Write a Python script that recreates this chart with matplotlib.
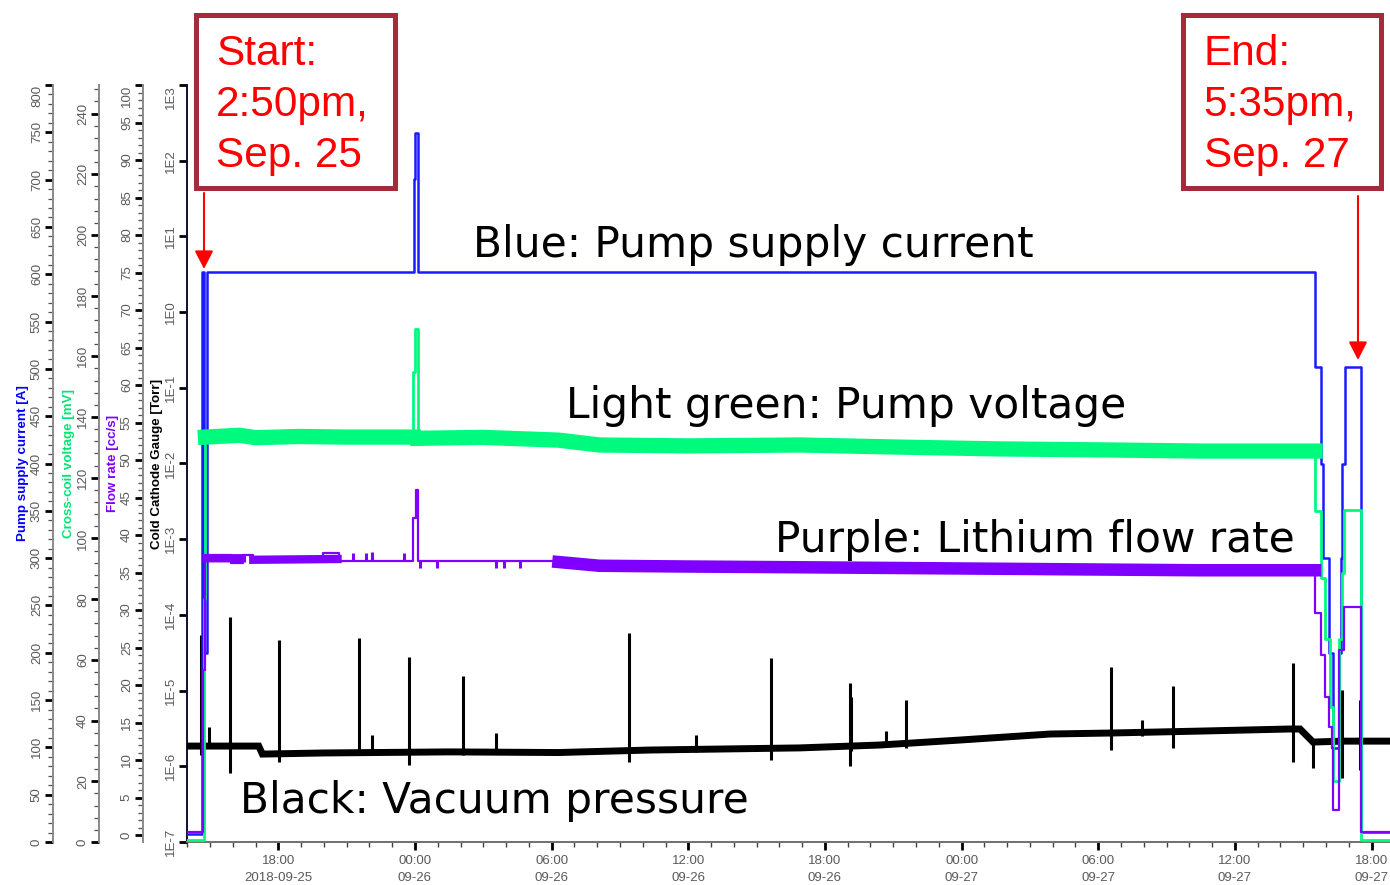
import matplotlib
matplotlib.use('Agg')
import matplotlib.pyplot as plt
import matplotlib.dates as mdates
import matplotlib.ticker as mticker
from matplotlib.patches import Rectangle, FancyArrowPatch
import numpy as np
import pandas as pd

plt.rcParams['font.family'] = ['Liberation Sans', 'DejaVu Sans']

nan = np.nan
# all times are hours after 2018-09-25 00:00

# pump supply current [A] (step changes)
cur_h = [13.98, 14.63, 14.73, 14.86, 23.96, 24.02, 24.13, 63.52, 63.77, 63.88, 64.14, 64.32,
         64.59, 64.66, 64.72, 64.84, 65.55, 66.9]
cur_a = [8, 602, 200, 602, 701, 749, 602, 502, 400, 300, 200, 99,
         200, 300, 400, 502, 11, 11]

# cross-coil voltage [mV]
volt_h = [13.98, 14.72, 14.80, 16.3, 17.0, 18.9, 21.0, 23.93, 24.00, 24.12, 27.0, 30.3, 32.1, 36.0,
          40.9, 45.3, 49.7, 54.0, 58.5, 63.52, 63.77, 63.96, 64.17, 64.32, 64.59, 64.69, 64.81, 65.55, 66.9]
volt_mv = [0.6, 80, 133.4, 134.0, 133.2, 133.6, 133.4, 155, 169, 133.0, 133.3, 132.4, 130.8, 130.5,
           130.8, 130.1, 129.5, 129.2, 128.8, 109, 87, 67, 44.5, 20, 67, 88.5, 109.5, 0.7, 0.7]
# noisy part of the voltage trace (band centre)
vband_h = [14.80, 16.3, 17.0, 18.9, 21.0, 23.93, nan, 24.12, 27.0, 30.3, 32.1, 36.0, 40.9, 45.3,
           49.7, 54.0, 58.5, 63.52]
vband_mv = [133.4, 134.0, 133.2, 133.6, 133.4, 133.4, nan, 133.0, 133.3, 132.4, 130.8, 130.5, 130.8, 130.1,
            129.5, 129.2, 128.8, 128.8]

# lithium flow rate [cc/s]
flow_h = [13.98, 14.68, 14.80, 15.90, 16.43, 16.90, 19.95, 20.65, 23.93, 24.03, 24.12, 30.3, 32.1,
          36.0, 40.9, 45.3, 49.7, 54.0, 58.5, 63.52, 63.77, 63.96, 64.14, 64.25, 64.32, 64.59, 64.81,
          65.55, 66.9]
flow_cc = [0.4, 22, 37.3, 36.3, 37.3, 36.6, 37.6, 36.5, 42.3, 46.0, 36.5, 36.2, 35.9,
           35.8, 35.7, 35.6, 35.5, 35.4, 35.3, 29.6, 24.0, 18.4, 14.4, 11.6, 3.3, 24.7, 30.4,
           0.4, 0.4]
# noisy parts of the flow trace (band centre)
fband1_h = [14.85, 16.4, nan, 16.9, 20.6]
fband1_cc = [36.9, 36.9, nan, 36.7, 36.8]
fband2_h = [30.3, 32.1, 36.0, 40.9, 45.3, 49.7, 54.0, 58.5, 63.52]
fband2_cc = [36.4, 35.9, 35.8, 35.7, 35.6, 35.5, 35.4, 35.3, 35.3]
# short blips of the flow reading
fblip_h = [21.27, 21.85, 22.11, 23.52, 24.22, 24.97, 27.55, 27.9, 28.6]
fblip_lo = [36.5, 36.5, 36.5, 36.5, 35.6, 35.6, 35.6, 35.6, 35.6]
fblip_hi = [37.6, 37.6, 37.8, 37.6, 36.5, 36.5, 36.5, 36.5, 36.5]

# cold cathode gauge [Torr]
press_h = [13.98, 17.14, 17.3, 20.0, 25.5, 30.3, 34.3, 40.9, 44.4, 47.9, 51.9, 54.5, 58.5, 62.4,
           62.86, 63.43, 64.7, 66.9]
press_torr = [1.85e-6, 1.85e-6, 1.45e-6, 1.50e-6, 1.55e-6, 1.52e-6, 1.64e-6, 1.75e-6, 1.91e-6, 2.22e-6,
              2.67e-6, 2.75e-6, 2.92e-6, 3.11e-6, 3.11e-6, 2.09e-6, 2.15e-6, 2.15e-6]
spike_h = [14.59, 14.95, 15.87, 18.02, 21.54, 22.11, 23.74, 26.11, 27.56, 33.41, 36.35, 39.65, 43.08,
           43.16, 44.66, 45.54, 54.55, 55.91, 57.27, 62.55, 63.43, 64.70, 65.49]
spike_top = [5.43e-5, 3.3e-6, 9.37e-5, 4.66e-5, 4.95e-5, 2.59e-6, 2.78e-5, 1.56e-5, 2.75e-6, 5.77e-5,
             2.59e-6, 2.70e-5, 1.26e-5, 8.2e-6, 2.92e-6, 7.5e-6, 2.05e-5, 4.09e-6, 1.15e-5, 2.32e-5,
             2.22e-6, 1.02e-5, 7.5e-6]
spike_low = [1.41e-6, 1.8e-6, 8.2e-7, 1.14e-6, 1.41e-6, 1.55e-6, 1.04e-6, 1.41e-6, 1.5e-6, 1.14e-6,
             1.55e-6, 1.21e-6, 1.01e-6, 1.6e-6, 1.9e-6, 1.75e-6, 1.64e-6, 2.5e-6, 1.75e-6, 1.14e-6,
             9.5e-7, 7.0e-7, 8.9e-7]

base = mdates.date2num(pd.Timestamp('2018-09-25').to_pydatetime())


def tx(h):
    return base + np.asarray(h, dtype=float) / 24.0


W, H = 1390, 885


def fx(x):
    return x / W


def fy(y):
    return 1 - y / H


fig = plt.figure(figsize=(13.9, 8.85), dpi=100)
left = 187
ax = fig.add_axes([left / W, 43 / H, (W - left) / W, 757 / H])
ax.set_yscale('log')
ax.set_ylim(1e-7, 1e3)
ax.set_xlim(tx(13.99), tx(66.81))
ax.xaxis_date()

grey_txt = '#5a5a5a'
for s in ['top', 'right']:
    ax.spines[s].set_visible(False)
ax.spines['left'].set_color('#101030')
ax.spines['left'].set_linewidth(1.4)
ax.spines['bottom'].set_color('#707070')
ax.spines['bottom'].set_linewidth(1.4)

ax.xaxis.set_major_locator(mdates.HourLocator(byhour=[0, 6, 12, 18]))
ax.xaxis.set_minor_locator(mdates.HourLocator())


def xfmt(v, pos):
    d = mdates.num2date(v)
    if d.day == 25:
        return d.strftime('%H:%M') + '\n' + d.strftime('%Y-%m-%d')
    return d.strftime('%H:%M') + '\n' + d.strftime('%m-%d')


ax.xaxis.set_major_formatter(mticker.FuncFormatter(xfmt))
ax.tick_params(axis='x', which='major', length=6, width=2, color='black', labelsize=9.5,
               labelcolor=grey_txt, pad=3)
ax.tick_params(axis='x', which='minor', length=3.5, width=1, color='#404040')
for lab in ax.get_xticklabels():
    lab.set_linespacing(1.65)

ax.set_yticks([10.0 ** k for k in range(-7, 4)])
ax.yaxis.set_minor_locator(mticker.LogLocator(base=10, subs=np.arange(2, 10)))
ax.yaxis.set_minor_formatter(mticker.NullFormatter())
ax.yaxis.set_major_formatter(mticker.FuncFormatter(lambda v, p: '1E%d' % round(np.log10(v))))
ax.set_ylabel('Cold Cathode Gauge [Torr]', fontsize=9.6, fontweight='bold', color='black', labelpad=1)


def make_twin(offset, lo, hi, major, minor, label, color):
    tw = ax.twinx()
    tw.set_ylim(lo, hi)
    for s in ['top', 'right', 'bottom']:
        tw.spines[s].set_visible(False)
    tw.spines['left'].set_visible(True)
    tw.spines['left'].set_position(('axes', offset))
    tw.spines['left'].set_color('#8a8a8a')
    tw.spines['left'].set_linewidth(1.4)
    tw.yaxis.set_ticks_position('left')
    tw.yaxis.set_label_position('left')
    tw.yaxis.set_major_locator(mticker.MultipleLocator(major))
    tw.yaxis.set_minor_locator(mticker.MultipleLocator(minor))
    tw.set_ylabel(label, fontsize=9.6, fontweight='bold', color=color, labelpad=1)
    return tw


ax_cur = make_twin((53.3 - left) / (W - left), 0, 800, 50, 10, 'Pump supply current [A]', '#0000ff')
ax_volt = make_twin((99.3 - left) / (W - left), 0, 249.4, 20, 4, 'Cross-coil voltage [mV]', '#00e676')
ax_flow = make_twin((143.3 - left) / (W - left), -0.93, 100, 5, 1, 'Flow rate [cc/s]', '#8000ff')

for a in [ax, ax_cur, ax_volt, ax_flow]:
    a.tick_params(axis='y', which='major', direction='out', length=6, width=2, color='black',
                  labelsize=9.5, labelcolor=grey_txt, labelrotation=90, pad=1.5)
    a.tick_params(axis='y', which='minor', direction='out', length=3.5, width=0.9, color='#505050')
    for lab in a.get_yticklabels():
        lab.set_va('center')

# traces
blue = '#1a1aff'
green = '#00fa7d'
purple = '#8000ff'
ax.plot(tx(press_h), press_torr, color='black', lw=5, solid_joinstyle='miter', zorder=3)
ax.vlines(tx(spike_h), spike_low, spike_top, color='black', lw=2.2, zorder=3)

ax_flow.step(tx(flow_h), flow_cc, where='post', color=purple, lw=1.6)
ax_flow.plot(tx(fband1_h), fband1_cc, color=purple, lw=6)
ax_flow.plot(tx(fband2_h), fband2_cc, color=purple, lw=9)
ax_flow.vlines(tx(fblip_h), fblip_lo, fblip_hi, color=purple, lw=2.2)

ax_volt.step(tx(volt_h), volt_mv, where='post', color=green, lw=2.0)
ax_volt.plot(tx(vband_h), vband_mv, color=green, lw=11)

ax_cur.step(tx(cur_h), cur_a, where='post', color=blue, lw=1.8)

# push the top tick labels inside, like the original
fig.canvas.draw()
for a, top in [(ax, 1e3), (ax_cur, 800), (ax_flow, 100)]:
    for lab in a.get_yticklabels():
        if np.isclose(lab.get_position()[1], top):
            lab.set_va('top')

# text annotations (the original uses a wider face than Arial)
big_font = ['DejaVu Sans']
big = 30.4
fig.text(fx(473), fy(257), 'Blue: Pump supply current', fontsize=big, va='baseline', family=big_font)
fig.text(fx(566), fy(418), 'Light green: Pump voltage', fontsize=big, va='baseline', family=big_font)
fig.text(fx(775), fy(552), 'Purple: Lithium flow rate', fontsize=big, va='baseline', family=big_font)
fig.text(fx(240), fy(813), 'Black: Vacuum pressure', fontsize=big, va='baseline', family=big_font)

box_col = '#a52a3a'
boxes = [(195.5, 394.5, ['Start:', '2:50pm,', 'Sep. 25']),
         (1183, 1381, ['End:', '5:35pm,', 'Sep. 27'])]
for x0, x1, lines in boxes:
    fig.add_artist(Rectangle((fx(x0), fy(188)), (x1 - x0) / W, (188 - 14.5) / H,
                             transform=fig.transFigure, facecolor='white', edgecolor=box_col, lw=3.6))
    for i, line in enumerate(lines):
        fig.text(fx(x0 + 20.5), fy(65 + 51 * i), line, fontsize=30.5, color='#ff0000', va='baseline')

for x, y0, y1 in [(204, 193, 269), (1358, 196, 360)]:
    fig.add_artist(FancyArrowPatch((fx(x), fy(y0)), (fx(x), fy(y1)), transform=fig.transFigure,
                                   arrowstyle='-|>,head_length=0.55,head_width=0.28', mutation_scale=20,
                                   color='#ff0000', lw=1.5, shrinkA=0, shrinkB=0))

fig.savefig('out.png', dpi=100)
